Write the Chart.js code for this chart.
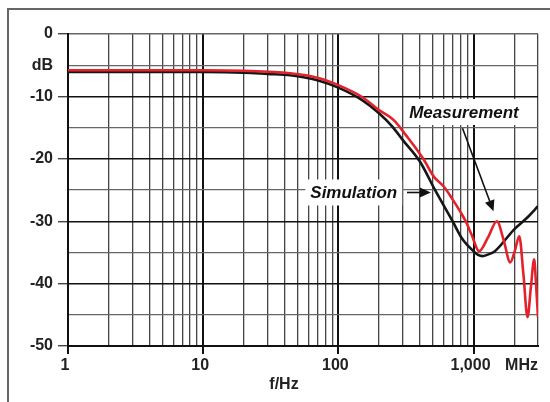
<!DOCTYPE html>
<html>
<head>
<meta charset="utf-8">
<script src="https://cdn.jsdelivr.net/npm/chart.js@4/dist/chart.umd.min.js"></script>
<style>
  html, body { margin: 0; padding: 0; background: #fff; }
  #wrap { width: 550px; height: 402px; }
</style>
</head>
<body>
<div id="wrap"><canvas id="chart" width="550" height="402"></canvas></div>
<script>
// frequency axis (log) and level axis ticks
const xTickValues = [1, 2, 3, 4, 5, 6, 7, 8, 9,
    10, 20, 30, 40, 50, 60, 70, 80, 90,
    100, 200, 300, 400, 500, 600, 700, 800, 900,
    1000, 2000, 3000];
const xTickLabels = { 1: '1', 10: '10', 100: '100', 1000: '1,000' };
const yTickLabels = { 0: '0', '-5': 'dB', '-10': '-10', '-20': '-20', '-30': '-30', '-40': '-40', '-50': '-50' };

// simulated response
const simFreq = [1, 10, 20, 30, 44, 70, 100, 150, 200, 250, 300, 400, 525, 700, 830, 1000, 1080, 1166, 1260, 1440, 2000, 2500, 3000];
const simDb = [-6.1, -6.1, -6.2, -6.4, -6.6, -7.4, -8.6, -10.6, -12.7, -14.8, -17.0, -20.4, -25.2, -30.0, -32.9, -34.8, -35.4, -35.6, -35.4, -34.8, -31.3, -29.4, -27.6];

// measured response
const measFreq = [1, 10, 20, 44, 70, 100, 150, 200, 257, 316, 425, 510, 600, 700, 800, 875, 970, 1100, 1280, 1490, 1670, 1870, 2020, 2180, 2340, 2510, 2660, 2810, 2900, 3000];
const measDb = [-5.8, -5.8, -5.9, -6.3, -7.0, -8.2, -10.1, -12.2, -13.8, -16.2, -20.0, -22.9, -24.4, -26.5, -28.5, -30.0, -32.2, -34.8, -32.6, -30.0, -33.0, -36.6, -34.8, -32.4, -38.5, -45.4, -40.5, -36.1, -40.0, -45.4];

// callout labels, anchored in data units: [freq, dB]
const notes = [
    { text: 'Simulation', at: [130, -25.4], from: [322, -25.4], to: [483, -25.4] },
    { text: 'Measurement', at: [850, -12.5], from: [829, -15.1], to: [1406, -28.4] }
];

const FONT = '"Liberation Sans", Arial, sans-serif';

function toPoints(xs, ys) {
    return xs.map((x, i) => ({ x: x, y: ys[i] }));
}

function isDecade(v) {
    return v === 1 || v === 10 || v === 100 || v === 1000;
}

function drawArrow(ctx, x1, y1, x2, y2) {
    const ang = Math.atan2(y2 - y1, x2 - x1);
    const headLen = 11, headW = 5;
    const bx = x2 - headLen * Math.cos(ang);
    const by = y2 - headLen * Math.sin(ang);
    ctx.strokeStyle = '#111';
    ctx.fillStyle = '#111';
    ctx.lineWidth = 1.6;
    ctx.beginPath();
    ctx.moveTo(x1, y1);
    ctx.lineTo(bx, by);
    ctx.stroke();
    ctx.beginPath();
    ctx.moveTo(x2, y2);
    ctx.lineTo(bx + headW * Math.sin(ang), by - headW * Math.cos(ang));
    ctx.lineTo(bx - headW * Math.sin(ang), by + headW * Math.cos(ang));
    ctx.closePath();
    ctx.fill();
}

const decorPlugin = {
    id: 'decor',
    beforeDraw(chart) {
        const ctx = chart.ctx;
        ctx.save();
        ctx.fillStyle = '#fff';
        ctx.fillRect(0, 0, chart.width, chart.height);
        // outer frame (top and left edge)
        ctx.strokeStyle = '#666';
        ctx.lineWidth = 2;
        ctx.beginPath();
        ctx.moveTo(8, chart.height);
        ctx.lineTo(8, 9);
        ctx.lineTo(chart.width, 9);
        ctx.stroke();
        ctx.restore();
    },
    afterDatasetsDraw(chart) {
        const ctx = chart.ctx;
        const xs = chart.scales.x, ys = chart.scales.y;
        const area = chart.chartArea;
        ctx.save();

        ctx.font = 'italic bold 17px ' + FONT;
        ctx.textAlign = 'center';
        ctx.textBaseline = 'middle';
        notes.forEach(n => {
            const cx = xs.getPixelForValue(n.at[0]);
            const cy = ys.getPixelForValue(n.at[1]);
            const w = ctx.measureText(n.text).width;
            ctx.fillStyle = '#fff';
            ctx.fillRect(cx - w / 2 - 5, cy - 13, w + 10, 26);
            ctx.fillStyle = '#111';
            ctx.fillText(n.text, cx, cy + 1);
            drawArrow(ctx,
                xs.getPixelForValue(n.from[0]), ys.getPixelForValue(n.from[1]),
                xs.getPixelForValue(n.to[0]), ys.getPixelForValue(n.to[1]));
        });

        // unit and axis title
        ctx.font = 'bold 16px ' + FONT;
        ctx.fillStyle = '#222';
        ctx.textAlign = 'right';
        ctx.fillText('MHz', area.right, 366);
        ctx.textAlign = 'center';
        ctx.fillText('f/Hz', 284, 385);
        ctx.restore();
    }
};

new Chart(document.getElementById('chart'), {
    type: 'line',
    data: {
        datasets: [
            {
                label: 'Measurement',
                data: toPoints(measFreq, measDb),
                borderColor: '#e3222b',
                borderWidth: 2.6,
                pointRadius: 0,
                cubicInterpolationMode: 'monotone',
                fill: false
            },
            {
                label: 'Simulation',
                data: toPoints(simFreq, simDb),
                borderColor: '#161616',
                borderWidth: 2.6,
                pointRadius: 0,
                cubicInterpolationMode: 'monotone',
                fill: false
            }
        ]
    },
    options: {
        responsive: false,
        animation: false,
        devicePixelRatio: 1,
        layout: { padding: { left: 0, top: 34, right: 12, bottom: 0 } },
        plugins: {
            legend: { display: false },
            tooltip: { enabled: false }
        },
        scales: {
            x: {
                type: 'logarithmic',
                min: 1,
                max: 3000,
                afterBuildTicks(scale) {
                    scale.ticks = xTickValues.map(v => ({ value: v }));
                },
                afterFit(scale) { scale.height = 56; },
                border: { display: true, color: '#111', width: 2 },
                grid: {
                    drawTicks: true,
                    tickLength: 8,
                    color: ctx => isDecade(ctx.tick.value) ? '#111' : '#444',
                    lineWidth: ctx => isDecade(ctx.tick.value) ? 2 : 1.3,
                    tickColor: ctx => isDecade(ctx.tick.value) ? '#111' : 'rgba(0,0,0,0)',
                    tickWidth: 2
                },
                ticks: {
                    autoSkip: false,
                    maxRotation: 0,
                    padding: 2,
                    labelOffset: -3,
                    color: '#222',
                    font: { family: FONT, size: 16, weight: 'bold' },
                    callback: value => xTickLabels[value] || ''
                }
            },
            y: {
                type: 'linear',
                min: -50,
                max: 0,
                afterBuildTicks(scale) {
                    const t = [];
                    for (let v = -50; v <= 0; v += 5) t.push({ value: v });
                    scale.ticks = t;
                },
                afterFit(scale) { scale.width = 68; },
                border: { display: true, color: '#111', width: 2 },
                grid: {
                    drawTicks: true,
                    tickLength: 10,
                    color: ctx => ctx.tick.value === 0 ? '#666' : (ctx.tick.value % 10 === 0 ? '#111' : '#666'),
                    lineWidth: ctx => ctx.tick.value % 10 === 0 ? 1.4 : 1.3,
                    tickColor: ctx => ctx.tick.value % 10 === 0 ? '#444' : 'rgba(0,0,0,0)',
                    tickWidth: 1.4
                },
                ticks: {
                    autoSkip: false,
                    padding: 5,
                    color: '#222',
                    font: { family: FONT, size: 16, weight: 'bold' },
                    callback: value => yTickLabels[value] || ''
                }
            }
        }
    },
    plugins: [decorPlugin]
});
</script>
</body>
</html>
